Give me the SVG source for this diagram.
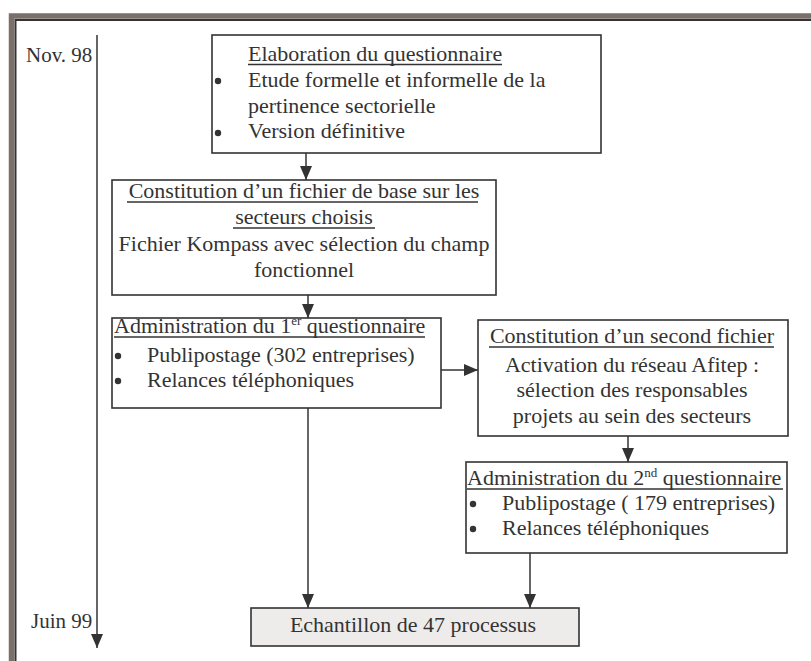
<svg xmlns="http://www.w3.org/2000/svg" width="811" height="661" viewBox="0 0 811 661" font-family="'Liberation Serif', 'DejaVu Serif', 'Times New Roman', serif">
<style>
  text { font-family: 'Liberation Serif', 'DejaVu Serif', 'Times New Roman', serif; font-size: 22px; fill: #333; }
  .date { font-size: 21px; }
  .mid { text-anchor: middle; }
  .box { fill: #fff; stroke: #333; stroke-width: 1.6; }
  .final { fill: #eeecea; stroke: #333; stroke-width: 1.6; }
  .ul { stroke: #333; stroke-width: 1.3; }
  .bul { fill: #333; }
  .con { stroke: #333; stroke-width: 1.5; fill: none; marker-end: url(#ah); }
  .sup { font-size: 13px; }
</style>
<defs>
  <marker id="ah" markerUnits="userSpaceOnUse" markerWidth="14" markerHeight="12" refX="14" refY="6" orient="auto">
    <path d="M0,0 L14,6 L0,12 z" fill="#333"/>
  </marker>
</defs>
<rect x="0" y="0" width="811" height="661" fill="#fff"/>
<g id="frame">
  <rect x="11.5" y="16" width="900" height="900" fill="none" stroke="#7b6f6a" stroke-width="5.5"/>
  <rect x="15.5" y="20" width="900" height="900" fill="none" stroke="#333" stroke-width="2"/>
</g>
<g id="timeline">
  <text class="date" x="26" y="62">Nov. 98</text>
  <text class="date" x="31" y="628">Juin 99</text>
</g>
<g id="connectors">
  <line class="con" x1="97" y1="35" x2="97" y2="648"/>
  <line class="con" x1="306" y1="153" x2="306" y2="180"/>
  <line class="con" x1="308" y1="295" x2="308" y2="318"/>
  <line class="con" x1="441" y1="370" x2="478" y2="370"/>
  <line class="con" x1="628" y1="436" x2="628" y2="462"/>
  <line class="con" x1="308" y1="408" x2="308" y2="608"/>
  <line class="con" x1="530" y1="553" x2="530" y2="608"/>
</g>
<g id="n1">
  <rect class="box" x="212" y="35" width="389" height="118"/>
  <text x="248" y="61">Elaboration du questionnaire</text>
  <line class="ul" x1="248" y1="64.5" x2="502" y2="64.5"/>
  <circle class="bul" cx="218" cy="81" r="3.2"/>
  <text x="248" y="87">Etude formelle et informelle de la</text>
  <text x="248" y="113">pertinence sectorielle</text>
  <circle class="bul" cx="218" cy="133" r="3.2"/>
  <text x="248" y="138">Version définitive</text>
</g>
<g id="n2">
  <rect class="box" x="112" y="180" width="384" height="115"/>
  <text class="mid" x="304" y="198">Constitution d’un fichier de base sur les</text>
  <text class="mid" x="304" y="224">secteurs choisis</text>
  <text class="mid" x="304" y="251">Fichier Kompass avec sélection du champ</text>
  <text class="mid" x="304" y="277">fonctionnel</text>
  <line class="ul" x1="127" y1="202" x2="478" y2="202"/>
  <line class="ul" x1="233" y1="228" x2="375" y2="228"/>
</g>
<g id="n3">
  <rect class="box" x="112" y="318" width="329" height="90"/>
  <text x="114" y="333">Administration du 1<tspan class="sup" dy="-8">er</tspan><tspan dy="8"> questionnaire</tspan></text>
  <line class="ul" x1="114" y1="337" x2="425" y2="337"/>
  <circle class="bul" cx="118" cy="356" r="3.2"/>
  <text x="147" y="362">Publipostage (302 entreprises)</text>
  <circle class="bul" cx="118" cy="381" r="3.2"/>
  <text x="147" y="387">Relances téléphoniques</text>
</g>
<g id="n4">
  <rect class="box" x="478" y="320" width="310" height="116"/>
  <text class="mid" x="632" y="343">Constitution d’un second fichier</text>
  <line class="ul" x1="489" y1="347" x2="774" y2="347"/>
  <text class="mid" x="632" y="372">Activation du réseau Afitep :</text>
  <text class="mid" x="632" y="397">sélection des responsables</text>
  <text class="mid" x="632" y="423">projets au sein des secteurs</text>
</g>
<g id="n5">
  <rect class="box" x="466" y="462" width="321" height="91"/>
  <text x="467" y="485">Administration du 2<tspan class="sup" dy="-8">nd</tspan><tspan dy="8"> questionnaire</tspan></text>
  <line class="ul" x1="467" y1="489" x2="783" y2="489"/>
  <circle class="bul" cx="473" cy="504" r="3.2"/>
  <text x="502" y="510">Publipostage ( 179 entreprises)</text>
  <circle class="bul" cx="473" cy="529" r="3.2"/>
  <text x="502" y="535">Relances téléphoniques</text>
</g>
<g id="n6">
  <rect class="final" x="251" y="608" width="328" height="38"/>
  <text class="mid" x="413" y="632">Echantillon de 47 processus</text>
</g>
</svg>
